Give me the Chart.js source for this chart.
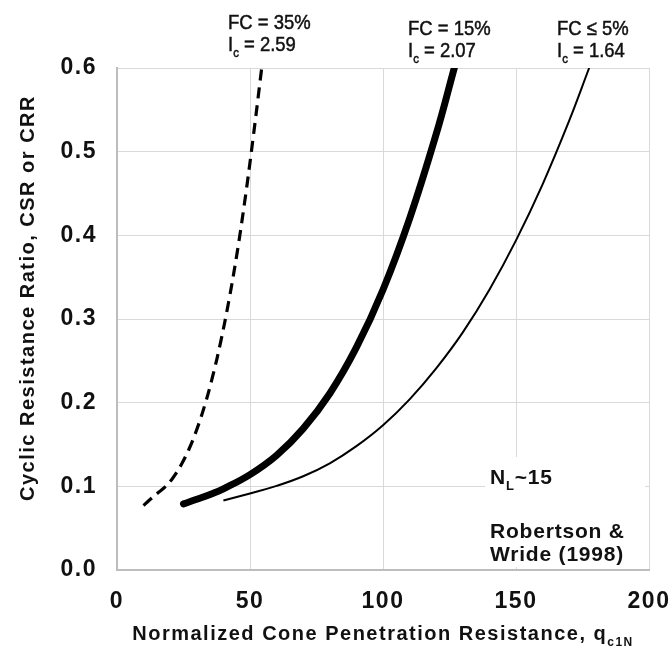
<!DOCTYPE html>
<html>
<head>
<meta charset="utf-8">
<script src="https://cdn.jsdelivr.net/npm/chart.js@4/dist/chart.umd.min.js"></script>
<style>
  html, body { margin: 0; padding: 0; background: #fff; }
  #wrap { width: 672px; height: 651px; }
</style>
</head>
<body>
<div id="wrap"><canvas id="c" width="672" height="651"></canvas></div>
<script>
// ---- data ----
const xTicks = [0, 50, 100, 150, 200];
const yTicks = [0.0, 0.1, 0.2, 0.3, 0.4, 0.5, 0.6];

// FC <= 5 %, Ic = 1.64 (thin solid)
const fc5X = [40, 50, 60, 70, 80, 90, 100, 110, 120, 130, 140, 150, 160, 170, 177.5];
const fc5Y = [0.083, 0.0915, 0.1005, 0.112, 0.1275, 0.148, 0.173, 0.204, 0.241, 0.284, 0.335, 0.394, 0.461, 0.537, 0.600];

// FC = 15 %, Ic = 2.07 (thick solid)
const fc15X = [25, 30, 36, 40, 50, 60, 70, 80, 90, 100, 110, 120, 126.8];
const fc15Y = [0.079, 0.0845, 0.0915, 0.097, 0.114, 0.137, 0.169, 0.211, 0.266, 0.335, 0.420, 0.521, 0.600];

// FC = 35 %, Ic = 2.59 (dashed)
const fc35X = [10, 12, 15.3, 18, 21, 24, 27, 30, 33, 36, 39, 42, 45, 48, 51, 54.4];
const fc35Y = [0.077, 0.083, 0.092, 0.099, 0.110, 0.125, 0.144, 0.168, 0.197, 0.232, 0.273, 0.321, 0.376, 0.440, 0.512, 0.600];

const labels35 = ["FC = 35%", "2.59"];
const labels15 = ["FC = 15%", "2.07"];
const labels5  = ["FC \u2264 5%", "1.64"];
const xTitle = "Normalized Cone Penetration Resistance, q";
const xTitleSub = "c1N";
const yTitle = "Cyclic Resistance Ratio, CSR or CRR";

function pts(xs, ys) { return xs.map((x, i) => ({ x: x, y: ys[i] })); }

const FAM = "'Liberation Sans', Arial, sans-serif";

function setFont(ctx, weight, size) { ctx.font = weight + " " + size + "px " + FAM; }

// draws text parts (with optional subscripts) starting at (x,y), horizontal scale sx
function drawRich(ctx, parts, x, y, size, weight, sx, spacing, stroke) {
  ctx.save();
  ctx.translate(x, y);
  ctx.scale(sx, 1);
  ctx.letterSpacing = (spacing || 0) + "px";
  ctx.strokeStyle = ctx.fillStyle;
  ctx.lineWidth = stroke || 0;
  let cx = 0;
  parts.forEach(p => {
    let yy = 0;
    if (p.sub) {
      setFont(ctx, weight, Math.round(size * 0.62));
      yy = size * 0.28;
    } else {
      setFont(ctx, weight, size);
    }
    ctx.fillText(p.t, cx, yy);
    if (stroke) ctx.strokeText(p.t, cx, yy);
    cx += ctx.measureText(p.t).width;
  });
  ctx.restore();
  return cx * sx;
}
function richWidth(ctx, parts, size, weight, sx, spacing) {
  ctx.save();
  ctx.letterSpacing = (spacing || 0) + "px";
  let w = 0;
  parts.forEach(p => {
    setFont(ctx, weight, p.sub ? Math.round(size * 0.62) : size);
    w += ctx.measureText(p.t).width;
  });
  ctx.restore();
  return w * sx;
}

const annot = {
  id: 'annot',
  beforeDraw(chart) { chart.ctx.letterSpacing = "1.5px"; },
  afterDatasetsDraw(chart) {
    const ctx = chart.ctx;
    ctx.save();
    ctx.textBaseline = 'alphabetic';
    ctx.textAlign = 'left';
    // white box behind NL / Robertson text
    ctx.fillStyle = '#fff';
    ctx.fillRect(485, 457, 160, 110);
    ctx.fillStyle = '#111';
    // curve labels above plot
    const top = [[labels35, 228, 29], [labels15, 408, 35], [labels5, 557, 35]];
    top.forEach(([l, x, y]) => {
      drawRich(ctx, [{t: l[0]}], x, y, 21, "normal", 0.88, 0, 0.5);
      drawRich(ctx, [{t: "I"}, {t: "c", sub: true}, {t: " = " + l[1]}], x, y + 22, 21, "normal", 0.88, 0, 0.5);
    });
    // NL ~ 15
    drawRich(ctx, [{t: "N"}, {t: "L", sub: true}, {t: "~15"}], 490, 484, 21, "bold", 1, 0.8);
    drawRich(ctx, [{t: "Robertson &"}], 490, 538, 21, "bold", 1, 0.8);
    drawRich(ctx, [{t: "Wride (1998)"}], 490, 561, 21, "bold", 1, 0.8);
    // x axis title
    const xp = [{t: xTitle}, {t: xTitleSub, sub: true}];
    const w = richWidth(ctx, xp, 20, "bold", 1, 1.5);
    const ca = chart.chartArea;
    drawRich(ctx, xp, (ca.left + ca.right) / 2 - w / 2, 640, 20, "bold", 1, 1.5);
    // y axis title
    ctx.translate(34, 298);
    ctx.rotate(-Math.PI / 2);
    ctx.textAlign = 'center';
    ctx.letterSpacing = "1.5px";
    setFont(ctx, "bold", 20);
    ctx.fillText(yTitle, 0, 0);
    ctx.restore();
  }
};

new Chart(document.getElementById('c'), {
  type: 'scatter',
  data: {
    datasets: [
      { label: 'FC35', data: pts(fc35X, fc35Y), showLine: true, borderColor: '#000', borderWidth: 3.2,
        borderDash: [11, 7], pointRadius: 0, tension: 0.4 },
      { label: 'FC15', data: pts(fc15X, fc15Y), showLine: true, borderColor: '#000', borderWidth: 7,
        borderCapStyle: 'round', pointRadius: 0, tension: 0.4 },
      { label: 'FC5', data: pts(fc5X, fc5Y), showLine: true, borderColor: '#000', borderWidth: 2,
        pointRadius: 0, tension: 0.4 }
    ]
  },
  options: {
    responsive: false,
    animation: false,
    devicePixelRatio: 1,
    layout: { padding: { left: 0, top: 68, right: 23, bottom: 0 } },
    plugins: { legend: { display: false }, tooltip: { enabled: false } },
    scales: {
      x: {
        type: 'linear', min: 0, max: 200,
        afterBuildTicks(s) { s.ticks = xTicks.map(v => ({ value: v })); },
        afterFit(s) { s.height = 81; s.paddingLeft = 0; s.paddingRight = 0; },
        grid: { color: '#d9d9d9', lineWidth: 1, drawTicks: false },
        border: { color: '#bdbdbd', width: 2 },
        ticks: { color: '#111', padding: 18, font: { family: FAM, size: 23, weight: 'bold' },
                 callback: v => String(v) }
      },
      y: {
        type: 'linear', min: 0, max: 0.6,
        afterBuildTicks(s) { s.ticks = yTicks.map(v => ({ value: v })); },
        afterFit(s) { s.width = 117; s.paddingTop = 0; s.paddingBottom = 0; },
        grid: { color: '#d9d9d9', lineWidth: 1, drawTicks: false },
        border: { color: '#bdbdbd', width: 2 },
        ticks: { color: '#111', padding: 20, font: { family: FAM, size: 23, weight: 'bold' },
                 callback: v => Number(v).toFixed(1) }
      }
    }
  },
  plugins: [annot]
});
</script>
</body>
</html>
